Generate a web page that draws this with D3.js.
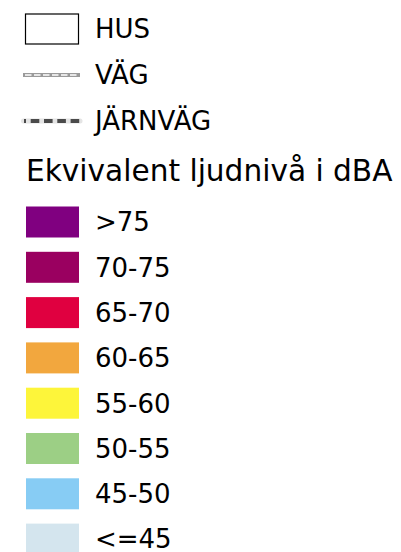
<!DOCTYPE html>
<html lang="sv">
<head>
<meta charset="UTF-8">
<title>Ekvivalent ljudnivå</title>
<script src="https://cdn.jsdelivr.net/npm/d3@7"></script>
<style>
    body{
        margin: 0;
        background: #fff;
    }
    text{
        font-family: "DejaVu Sans", Verdana, sans-serif;
        fill: #000;
    }
</style>
</head>
<body>
<div id="legend"></div>
<script>
    // symbols on top
    const symbols = ['HUS', 'VÄG', 'JÄRNVÄG']
    const title = 'Ekvivalent ljudnivå i dBA'

    // noise classes, loudest first
    const classes = ['>75', '70-75', '65-70', '60-65', '55-60', '50-55', '45-50', '<=45']
    const colors = ['#800080', '#9a0060', '#e00040', '#f2a73e', '#fdf53a', '#9ccf85', '#87ccf4', '#d4e5ee']

    const W = 401, H = 552

    var svg = d3.select('#legend')
        .append('svg')
        .attr('width', W)
        .attr('height', H)

    const ySym = d3.scalePoint().domain(symbols).range([29, 121])
    // step 45.3, swatch 31 high
    const yCls = d3.scaleBand().domain(classes).range([206.5, 206.5 + 45.3 * 7 + 31]).paddingInner(14.3 / 45.3).paddingOuter(0)

    // HUS
    svg.append('rect')
        .attr('x', 25.5)
        .attr('y', ySym('HUS') - 15)
        .attr('width', 53)
        .attr('height', 30)
        .style('fill', '#fff')
        .style('stroke', '#000')
        .style('stroke-width', 1.2)

    // VÄG
    svg.append('line')
        .attr('x1', 23).attr('x2', 80)
        .attr('y1', ySym('VÄG')).attr('y2', ySym('VÄG'))
        .style('stroke', '#9a9a9a')
        .style('stroke-width', 4)
    svg.append('line')
        .attr('x1', 25).attr('x2', 79)
        .attr('y1', ySym('VÄG')).attr('y2', ySym('VÄG'))
        .style('stroke', '#fff')
        .style('stroke-width', 1.3)
        .style('stroke-dasharray', '6.5,2.5')

    // JÄRNVÄG
    svg.append('line')
        .attr('x1', 23.5).attr('x2', 80)
        .attr('y1', ySym('JÄRNVÄG')).attr('y2', ySym('JÄRNVÄG'))
        .style('stroke', '#e4e4e4')
        .style('stroke-width', 5)
        .style('stroke-linecap', 'round')
    svg.append('line')
        .attr('x1', 24).attr('x2', 80)
        .attr('y1', ySym('JÄRNVÄG')).attr('y2', ySym('JÄRNVÄG'))
        .style('stroke', '#4a4a4a')
        .style('stroke-width', 4)
        .style('stroke-dasharray', '8.6,4.7')
        .style('stroke-dashoffset', 6.6)

    svg.selectAll('text.sym')
        .data(symbols)
        .enter()
        .append('text')
        .attr('class', 'sym')
        .attr('x', 95)
        .attr('y', d => ySym(d))
        .attr('dy', '0.36em')
        .style('font-size', '26px')
        .text(d => d)

    svg.append('text')
        .attr('x', 26)
        .attr('y', 181)
        .style('font-size', '29.6px')
        .text(title)

    svg.selectAll('rect.cls')
        .data(classes)
        .enter()
        .append('rect')
        .attr('class', 'cls')
        .attr('x', 26)
        .attr('y', d => yCls(d))
        .attr('width', 53)
        .attr('height', yCls.bandwidth())
        .style('fill', (d, i) => colors[i])

    svg.selectAll('text.cls')
        .data(classes)
        .enter()
        .append('text')
        .attr('class', 'cls')
        .attr('x', 95)
        .attr('y', d => yCls(d) + yCls.bandwidth() / 2)
        .attr('dy', '0.36em')
        .style('font-size', '26px')
        .text(d => d)
</script>
</body>
</html>
